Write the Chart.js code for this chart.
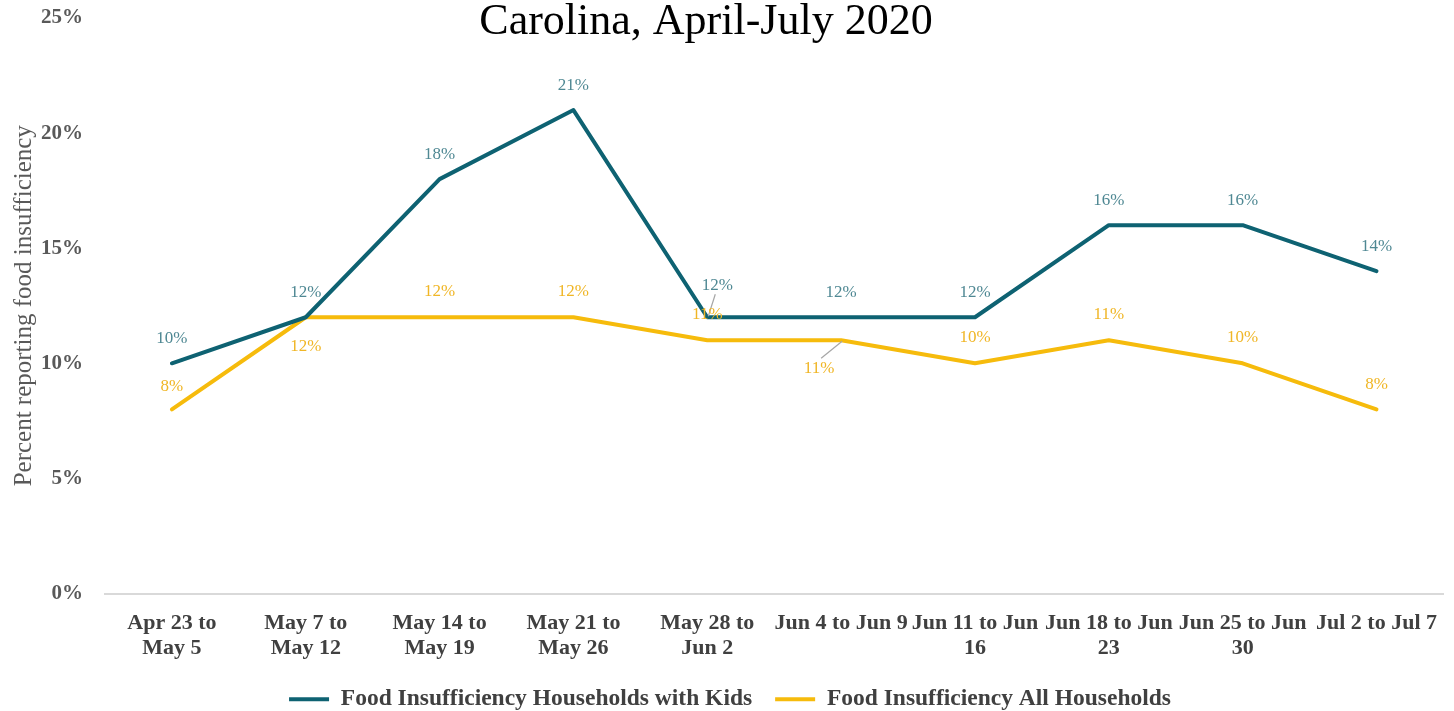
<!DOCTYPE html>
<html>
<head>
<meta charset="utf-8">
<script src="https://cdn.jsdelivr.net/npm/chart.js@4/dist/chart.umd.min.js"></script>
<style>
  html, body { margin: 0; padding: 0; background: #fff; }
  #wrap { width: 1454px; height: 711px; }
</style>
</head>
<body>
<div id="wrap"><canvas id="c" width="1454" height="711"></canvas></div>
<script>
const categories = [
  ["Apr 23 to", "May 5"],
  ["May 7 to", "May 12"],
  ["May 14 to", "May 19"],
  ["May 21 to", "May 26"],
  ["May 28 to", "Jun 2"],
  ["Jun 4 to Jun 9"],
  ["Jun 11 to Jun", "16"],
  ["Jun 18 to Jun", "23"],
  ["Jun 25 to Jun", "30"],
  ["Jul 2 to Jul 7"]
];
const kidsValues = [10, 12, 18, 21, 12, 12, 12, 16, 16, 14];
const allValues = [8, 12, 12, 12, 11, 11, 10, 11, 10, 8];
const yTicks = [0, 5, 10, 15, 20, 25];
const titleText = "Carolina, April-July 2020";
const yTitle = "Percent reporting food insufficiency";
const seriesNames = ["Food Insufficiency Households with Kids", "Food Insufficiency All Households"];

const TEAL = "#0e6272";
const GOLD = "#f6bb0c";
const SERIF = "'Liberation Serif', 'Times New Roman', serif";

// label placement (style only): [dx, dy, leaderLine]
const labelStyle = [
  { color: "#4f8893", offsets: [[0,-25],[0,-25],[0,-25],[0,-25],[10,-32,true],[0,-25],[0,-25],[0,-25],[0,-25],[0,-25]] },
  { color: "#f0b626", offsets: [[0,-23],[0,29],[0,-26],[0,-26],[0,-26],[-22,28,true],[0,-26],[0,-26],[0,-26],[0,-25]] }
];

const titlePlugin = {
  id: 'customTitle',
  afterDraw(chart) {
    const ctx = chart.ctx;
    ctx.save();
    ctx.font = "44px " + SERIF;
    ctx.fillStyle = "#000";
    ctx.textAlign = "center";
    ctx.textBaseline = "middle";
    ctx.fillText(titleText, 706, 22);
    ctx.restore();
  }
};

const labelPlugin = {
  id: 'valueLabels',
  afterDatasetsDraw(chart) {
    const ctx = chart.ctx;
    ctx.save();
    chart.data.datasets.forEach((ds, di) => {
      const meta = chart.getDatasetMeta(di);
      const st = labelStyle[di];
      meta.data.forEach((pt, i) => {
        const [dx, dy, leader] = st.offsets[i];
        const x = pt.x + dx, y = pt.y + dy;
        if (leader) {
          ctx.strokeStyle = "#a6a6a6";
          ctx.lineWidth = 1.2;
          ctx.beginPath();
          if (dy < 0) { ctx.moveTo(pt.x + 1, pt.y - 1); ctx.lineTo(x - 2, y + 9); }
          else { ctx.moveTo(pt.x + 1, pt.y + 1); ctx.lineTo(x + 2, y - 10); }
          ctx.stroke();
        }
        ctx.font = "17px " + SERIF;
        ctx.fillStyle = st.color;
        ctx.textAlign = "center";
        ctx.textBaseline = "middle";
        ctx.fillText(ds.data[i] + "%", x, y);
      });
    });
    ctx.restore();
  }
};

new Chart(document.getElementById('c'), {
  type: 'line',
  data: {
    labels: categories,
    datasets: [
      { label: seriesNames[0], data: kidsValues, borderColor: TEAL, backgroundColor: TEAL, borderWidth: 4, pointRadius: 0, tension: 0, borderCapStyle: 'round', borderJoinStyle: 'round' },
      { label: seriesNames[1], data: allValues, borderColor: GOLD, backgroundColor: GOLD, borderWidth: 4, pointRadius: 0, tension: 0, borderCapStyle: 'round', borderJoinStyle: 'round' }
    ]
  },
  options: {
    responsive: false,
    animation: false,
    devicePixelRatio: 1,
    layout: { padding: { left: 0, right: -6, top: 18, bottom: -10 } },
    plugins: {
      title: { display: false },
      tooltip: { enabled: false },
      legend: {
        position: 'bottom',
        labels: {
          usePointStyle: true,
          pointStyle: 'line',
          pointStyleWidth: 40,
          boxHeight: 18,
          padding: 23,
          color: "#404040",
          font: { family: SERIF, size: 23.5, weight: 'bold' }
        }
      }
    },
    scales: {
      x: {
        offset: true,
        grid: { display: false, drawTicks: false },
        border: { display: true, color: "#d9d9d9", width: 2 },
        ticks: {
          padding: 17,
          maxRotation: 0,
          autoSkip: false,
          color: "#404040",
          font: { family: SERIF, size: 22, weight: 'bold', lineHeight: 1.14 }
        },
        afterFit(scale) { scale.height = 71; }
      },
      y: {
        min: 0,
        max: 25,
        afterBuildTicks(scale) { scale.ticks = yTicks.map(v => ({ value: v })); },
        grid: { display: false, drawTicks: true, tickLength: 22 },
        border: { display: false },
        ticks: {
          padding: 0,
          color: "#595959",
          font: { family: SERIF, size: 21, weight: 'bold' },
          callback: v => v + "%"
        },
        title: {
          display: true,
          text: yTitle,
          color: "#595959",
          padding: { top: 9, bottom: 0 },
          font: { family: SERIF, size: 25 }
        },
        afterFit(scale) { scale.width = 105; }
      }
    }
  },
  plugins: [titlePlugin, labelPlugin]
});
</script>
</body>
</html>
